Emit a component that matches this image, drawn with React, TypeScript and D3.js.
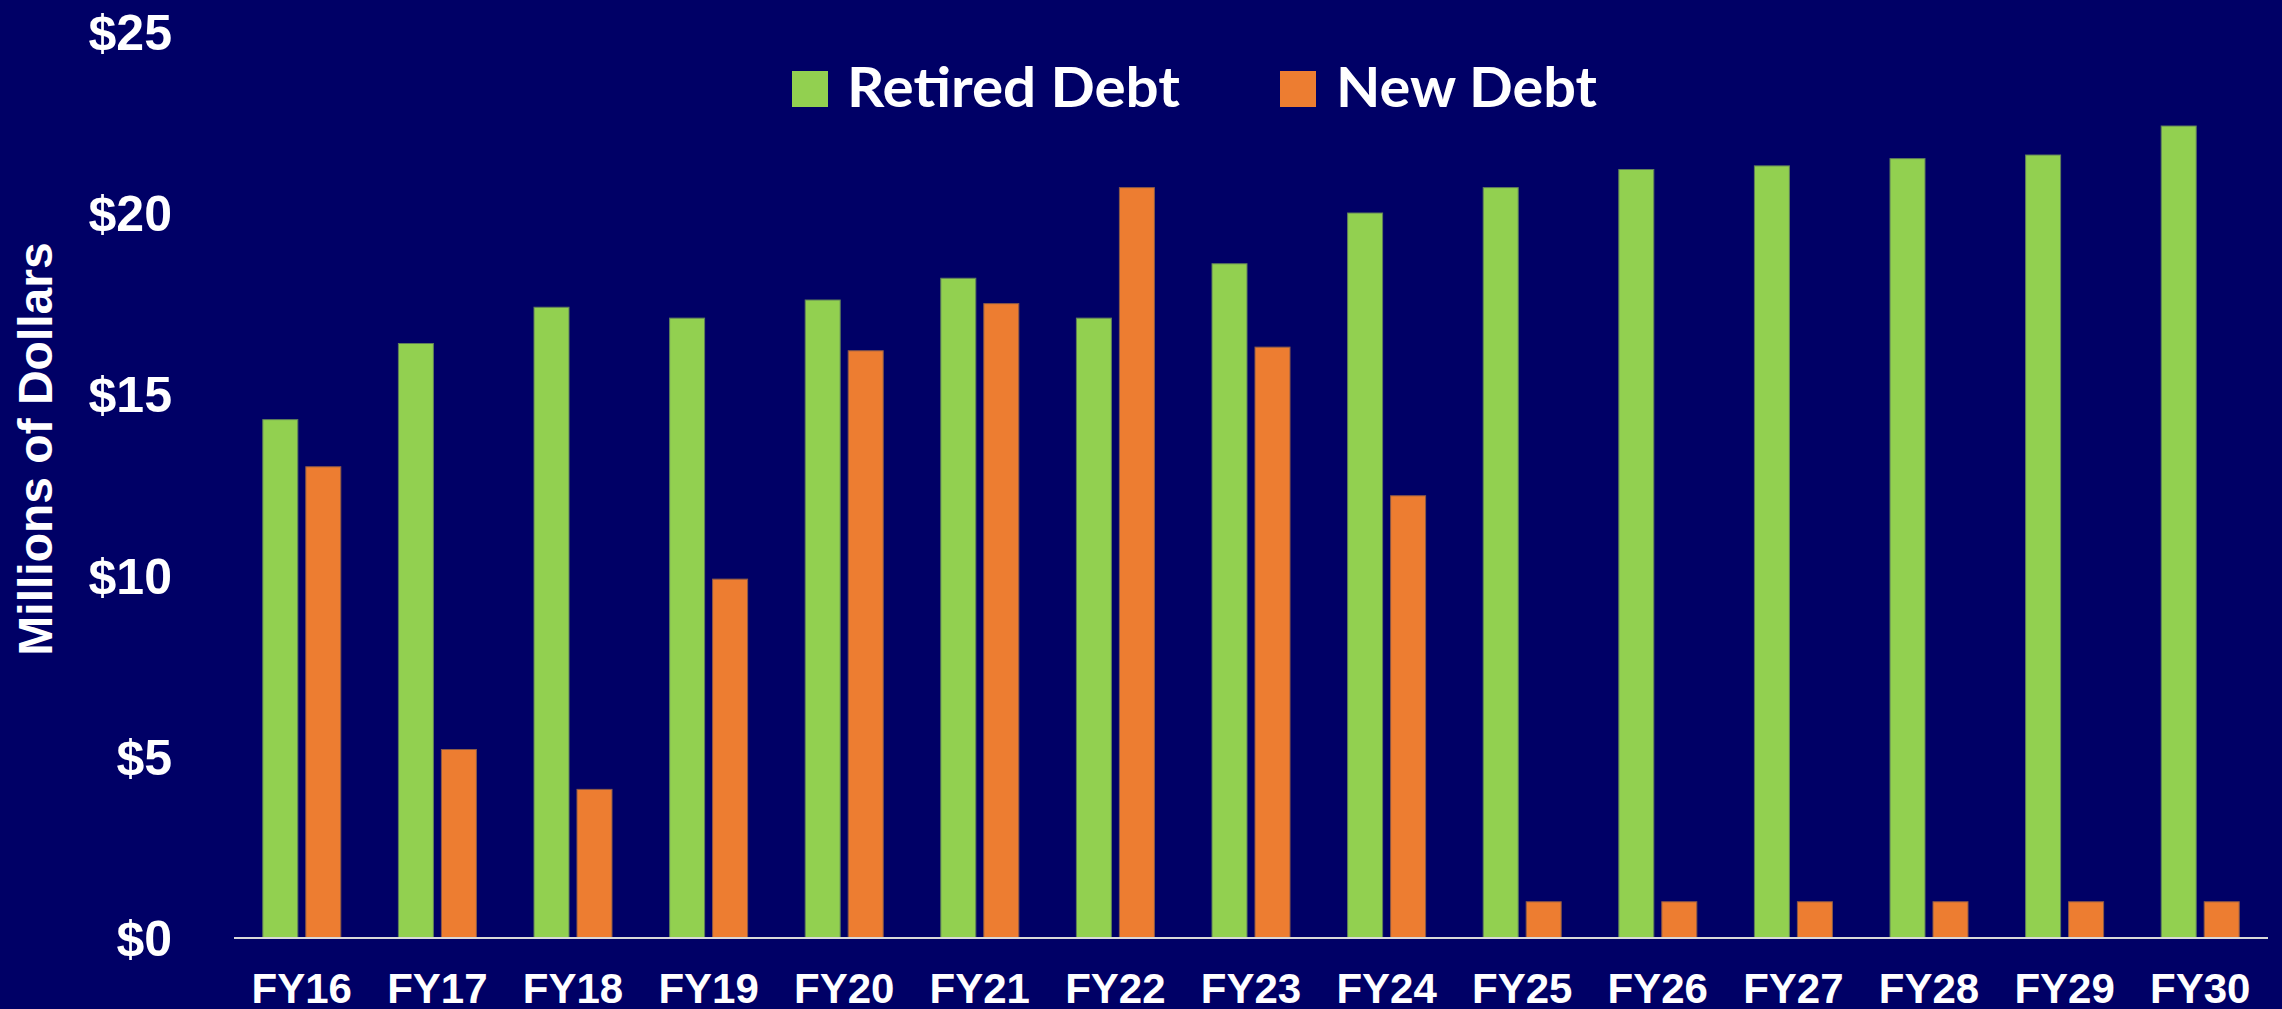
import React from "react";
import * as d3 from "d3";

const categories = ["FY16","FY17","FY18","FY19","FY20","FY21","FY22","FY23","FY24","FY25","FY26","FY27","FY28","FY29","FY30"];
const retiredDebt = [14.3, 16.4, 17.4, 17.1, 17.6, 18.2, 17.1, 18.6, 20.0, 20.7, 21.2, 21.3, 21.5, 21.6, 22.4];
const newDebt = [13.0, 5.2, 4.1, 9.9, 16.2, 17.5, 20.7, 16.3, 12.2, 1.0, 1.0, 1.0, 1.0, 1.0, 1.0];
const yTicks = [0, 5, 10, 15, 20, 25];
const seriesKeys = ["Retired Debt", "New Debt"];

const W = 2282;
const H = 1009;
const BG = "#000066";
const GREEN = "#92D050";
const ORANGE = "#ED7D31";

export default function App() {
  const x = d3.scaleBand<string>().domain(categories).range([234, 2268]).paddingInner(0).paddingOuter(0);
  const groupW = 78;
  const x1 = d3.scaleBand<string>().domain(seriesKeys).range([0, groupW]).paddingInner(0.186).paddingOuter(0);
  const y = d3.scaleLinear().domain([0, 25]).range([938, 31.75]);
  const fmt = (v: number) => "$" + d3.format("d")(v);
  const series = [
    { key: "Retired Debt", values: retiredDebt, color: GREEN, stroke: "#5f7f5a" },
    { key: "New Debt", values: newDebt, color: ORANGE, stroke: "#8a5a48" },
  ];
  const arial = "'Liberation Sans', Arial, Helvetica, sans-serif";
  const legendFont = "Lato, 'Open Sans', sans-serif";

  return (
    <svg width={W} height={H} style={{ position: "absolute", left: 0, top: 0, display: "block" }}>
      <rect x={0} y={0} width={W} height={H} fill={BG} />
      {/* bars */}
      {series.map((s) => (
        <g key={s.key}>
          {categories.map((c, i) => {
            const gx = (x(c) as number) + x.bandwidth() / 2 - groupW / 2 + (x1(s.key) as number);
            const top = y(s.values[i]);
            return (
              <rect
                key={c}
                x={gx}
                y={top}
                width={x1.bandwidth()}
                height={y(0) - top}
                fill={s.color}
                stroke={s.stroke}
                strokeWidth={1}
              />
            );
          })}
        </g>
      ))}
      {/* axis line */}
      <line x1={234} x2={2268} y1={y(0)} y2={y(0)} stroke="#d9d9d9" strokeWidth={2} />
      {/* y tick labels */}
      {yTicks.map((t) => (
        <text
          key={t}
          x={172}
          y={y(t) + 18}
          textAnchor="end"
          fill="#ffffff"
          fontFamily={arial}
          fontWeight="bold"
          fontSize={50}
        >
          {fmt(t)}
        </text>
      ))}
      {/* x labels */}
      {categories.map((c) => (
        <text
          key={c}
          x={(x(c) as number) + x.bandwidth() / 2}
          y={1003}
          textAnchor="middle"
          fill="#ffffff"
          fontFamily={arial}
          fontWeight="bold"
          fontSize={42}
        >
          {c}
        </text>
      ))}
      {/* y axis title */}
      <text
        transform="translate(52,449) rotate(-90)"
        textAnchor="middle"
        fill="#ffffff"
        fontFamily={arial}
        fontWeight="bold"
        fontSize={48}
      >
        Millions of Dollars
      </text>
      {/* legend */}
      <rect x={792} y={71} width={36} height={36} fill={GREEN} />
      <text x={847} y={107} fill="#ffffff" fontFamily={legendFont} fontWeight="bold" fontSize={56}
        textLength={333} lengthAdjust="spacingAndGlyphs">
        Retired Debt
      </text>
      <rect x={1280} y={71} width={36} height={36} fill={ORANGE} />
      <text x={1336} y={107} fill="#ffffff" fontFamily={legendFont} fontWeight="bold" fontSize={56}
        textLength={261} lengthAdjust="spacingAndGlyphs">
        New Debt
      </text>
    </svg>
  );
}
